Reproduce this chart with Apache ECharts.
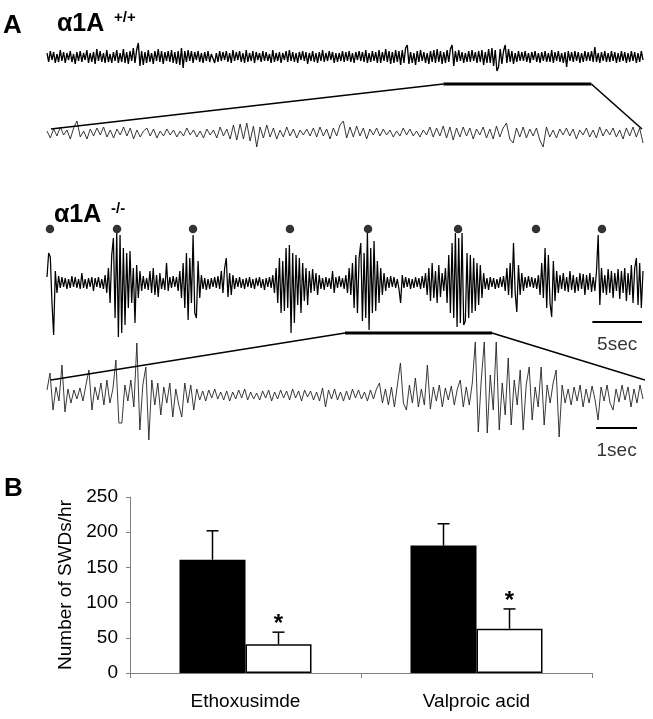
<!DOCTYPE html>
<html><head><meta charset="utf-8">
<script src="https://cdn.jsdelivr.net/npm/echarts@6/dist/echarts.min.js"></script>
<style>html,body{margin:0;padding:0;background:#fff}#c{width:653px;height:719px}</style>
</head><body><div id="c"></div>
<script>
// ---- Panel A: EEG traces (amplitude, arbitrary units) ----
const wtOverview = [
 4,-5,6,-3,5,-6,3,-5,7,-4,5,-6,4,-3,6,-5,3,-7,5,-4,
 6,-5,4,-3,7,-6,4,-5,5,-7,8,-4,6,-5,4,-6,7,-5,3,-6,
 5,-4,7,-6,4,-5,8,-6,5,-7,6,-4,9,-6,7,14,-9,6,-8,5,
 -6,7,-5,4,-7,6,-4,8,-5,6,-7,5,-4,6,-5,7,-6,5,-7,6,
 -8,9,-11,6,-5,7,-4,6,-6,5,-3,6,-5,4,-6,5,-4,6,-5,3,
 5,-6,4,-5,6,-4,5,-3,6,-5,4,-6,7,-4,5,-3,6,-5,4,-6,
 7,-5,4,-4,6,-6,5,-3,4,-5,6,-4,5,-4,3,-6,7,-5,4,-4,
 5,-6,4,-3,6,-5,7,-4,5,-5,4,-6,5,-3,6,-4,5,-7,4,-4,
 6,-5,4,-6,5,-4,7,-5,4,-4,6,-3,5,-6,4,-5,4,-4,6,-5,
 5,-4,6,-5,4,-6,5,-3,6,-4,5,-5,7,-6,4,-5,6,-4,5,-6,
 7,-6,5,-4,8,-5,6,-7,5,-6,7,-5,6,-8,7,-6,9,12,-7,5,
 -6,4,-8,6,-5,7,-4,5,-6,4,-7,6,-5,7,-6,8,-5,6,-7,5,
 -6,7,-5,8,12,-9,6,-5,7,-4,5,-6,4,-5,6,-5,7,-4,5,-6,
 6,-5,7,-8,5,-6,8,-6,9,-9,7,-14,-10,8,-7,6,12,-6,8,-5,
 6,-7,4,-5,6,-4,5,-4,6,-5,4,-6,5,-3,6,-5,4,-6,5,-4,
 6,-5,4,-5,7,-6,5,-4,6,-5,4,-6,5,-10,6,-4,5,-5,6,-4,
 5,-6,4,-5,6,-4,5,-4,6,-5,10,-5,4,-6,5,-4,6,-5,4,-5,
 6,-4,5,-6,4,-5,6,-4,5,-6,4,-5,6,-4,5,-6,4,-5,6,-3
];
const wtZoom = [
 2,-5,4,-3,6,-2,3,-6,5,12,-4,2,-6,4,-3,5,-2,6,-4,3,
 -5,4,-2,6,-3,5,-6,3,-4,2,5,-3,4,-5,2,-3,4,-2,3,-4,
 2,-3,5,-2,3,-4,2,-5,4,-2,3,-5,6,-3,4,-6,8,-7,9,-6,
 10,-8,7,-14,6,-5,8,-4,5,-6,3,-4,6,-3,4,-5,3,-2,4,-3,
 5,-4,6,-3,4,-6,5,-3,8,12,-5,6,-4,7,-3,5,-6,4,-2,5,
 -3,4,-2,3,-4,2,-3,5,-2,4,-3,2,-4,3,-2,6,-4,5,-3,7,
 -5,6,-7,5,-4,6,-3,5,-6,4,-2,6,-5,4,-6,7,-4,5,10,-6,
 -10,5,-4,6,-5,4,-3,5,-7,-14,6,-4,3,-5,4,-2,5,-3,4,-6,
 3,-2,5,-4,3,-5,6,-3,4,-2,5,-4,3,-6,5,-3,6,-4,5,-10
];
const koOverview = [
 6,30,26,-20,-52,12,-10,7,-5,6,-4,5,-6,4,-5,7,-4,6,-5,4,
 -6,10,-5,4,-6,5,-4,6,-8,5,-4,6,-5,4,-6,8,-10,15,-20,28,
 45,-35,50,-54,48,-50,35,-42,30,-25,32,-20,15,-40,18,-15,12,-8,7,-6,
 5,-7,12,-10,15,-12,8,-14,10,-6,5,-7,20,-8,6,-5,7,-4,6,-8,
 12,-15,20,-25,30,-37,25,-20,48,-30,-35,22,-15,8,-6,5,-7,4,-6,5,
 -4,6,-5,7,-6,12,-10,15,25,-14,10,-12,8,-6,5,-4,6,-5,4,-6,
 5,-4,6,-5,4,-6,5,-3,6,-5,4,-7,5,-4,6,-5,8,-10,15,-20,
 25,-30,22,-28,35,-25,38,-50,30,-40,28,-22,25,-30,20,-18,15,-22,12,-10,
 14,-8,10,-12,8,-6,5,-7,6,-4,5,-6,12,-10,6,-5,7,-4,5,-6,
 8,-10,15,-12,20,-25,28,-30,25,40,-38,30,-35,50,-47,35,-30,42,-28,22,
 -20,15,-12,10,-8,6,-5,7,-4,6,-5,4,-6,-20,8,-5,6,-4,5,-6,
 4,-5,6,-4,5,-6,7,-5,10,-12,15,-18,20,-15,12,-20,18,-14,10,-8,
 15,-20,28,-30,40,-35,50,-44,45,-40,50,-42,-38,30,-35,28,-30,25,-28,20,
 -22,18,-15,10,-6,5,-7,6,-4,5,-6,4,-5,6,-4,7,-8,15,-12,20,
 -15,40,-10,-29,18,-12,10,-8,6,-5,7,-4,6,-5,5,-6,8,-12,20,-15,
 35,-25,28,-20,-34,22,-18,12,-10,8,-6,10,-8,6,-9,12,-7,8,-10,6,
 -8,10,-6,9,-12,8,-7,10,-9,6,-8,12,48,-22,15,-10,8,-12,14,-10,
 12,-15,10,-8,14,-16,12,-10,15,-18,10,-12,18,-20,15,25,-22,20,-25,12
];
const koZoom = [
 5,22,-15,8,-6,30,-17,6,-8,5,-4,7,-6,10,25,-15,8,-5,12,-10,
 15,-8,6,35,-28,-28,10,-6,15,-12,52,-35,10,28,-45,15,-10,12,-20,8,
 -8,12,-22,6,-10,-22,12,-8,10,-15,6,-5,4,-6,5,-3,6,-4,3,-5,
 4,-6,3,-4,5,-3,6,-5,3,-4,2,-5,4,-3,5,-6,3,-4,5,-3,
 4,-5,6,-3,4,-6,5,-2,4,-5,3,-6,7,-12,5,-4,6,-5,3,-6,
 4,-5,6,-3,5,-4,3,-6,5,-4,6,12,-8,6,-10,8,-12,10,32,-8,
 -15,10,-8,17,-12,6,-10,30,-14,8,-6,10,-12,7,-5,9,-10,6,15,-12,
 8,-10,12,53,-37,15,53,-38,20,-15,53,-35,12,-20,37,-30,15,-10,25,-35,
 10,28,-25,8,-12,28,-30,10,-8,12,25,-42,10,-8,6,-10,8,-6,10,-12,
 6,-8,9,-5,-25,8,-6,10,-8,-15,6,-7,10,-5,8,-12,6,-8,10,-4
];
const overviewSeconds = 60;
const zoomSeconds = 15;
const wtZoomWindow = [39.9, 54.8];
const koZoomWindow = [30.0, 44.8];
const swdTimes = [0.3, 7.05, 14.7, 24.46, 32.32, 41.38, 49.23, 55.87];
const overviewScaleBar = [54.9, 59.9];   // 5 sec
const zoomScaleBar = [13.82, 14.85];     // 1 sec
const overviewScaleLabel = '5sec';
const zoomScaleLabel = '1sec';

// ---- Panel B: bar chart ----
const drugs = ['Ethoxusimde', 'Valproic acid'];
const beforeMean = [161, 181];
const beforeUpper = [202, 212];
const afterMean = [41, 63];
const afterUpper = [58, 91];
const afterMark = ['*', '*'];
const yTickMin = 0, yTickMax = 250, yTickStep = 50;
const yName = 'Number of SWDs/hr';

const FONT = '"Liberation Sans", Arial, Helvetica, sans-serif';
const BAR_W = 66;

function toPairs(vals, dur) {
  return vals.map((v, i) => [i * dur / (vals.length - 1), v]);
}
function traceSeries(vals, dur, idx, color, w) {
  return {type: 'line', xAxisIndex: idx, yAxisIndex: idx, data: toPairs(vals, dur),
    showSymbol: false, symbol: 'none', clip: false, silent: true,
    lineStyle: {color: color, width: w}};
}
function segSeries(idx, pts, w) {
  return {type: 'line', xAxisIndex: idx, yAxisIndex: idx, data: pts, showSymbol: false,
    symbol: 'none', clip: false, silent: true, lineStyle: {color: '#000', width: w}};
}
function scaleBar(idx, range, yv, label, dist) {
  return [
    segSeries(idx, [[range[0], yv], [range[1], yv]], 2),
    {type: 'scatter', xAxisIndex: idx, yAxisIndex: idx, symbolSize: 0.1,
     data: [[(range[0] + range[1]) / 2, yv]], silent: true,
     label: {show: true, position: 'bottom', distance: dist, formatter: label,
       fontSize: 19, fontFamily: FONT, color: '#000'}}
  ];
}
function connector(idx, win, dur) {
  return [
    segSeries(idx, [[0.4, 0], [win[0], 1]], 1.6),
    segSeries(idx, [[win[0], 1], [win[1], 1]], 3),
    segSeries(idx, [[win[1], 1], [dur, 0]], 1.6)
  ];
}
function errRender(side, marks) {
  return function (params, api) {
    const base = api.coord([api.value(0), api.value(1)]);
    const top = api.coord([api.value(0), api.value(2)]);
    const x = base[0] + side * BAR_W / 2;
    const children = [
      {type: 'line', shape: {x1: x, y1: base[1], x2: x, y2: top[1]}, style: {stroke: '#000', lineWidth: 1.5}},
      {type: 'line', shape: {x1: x - 6, y1: top[1], x2: x + 6, y2: top[1]}, style: {stroke: '#000', lineWidth: 1.5}}
    ];
    if (marks) {
      children.push({type: 'text', style: {text: marks[params.dataIndex], x: x, y: top[1] + 4,
        align: 'center', verticalAlign: 'bottom', textAlign: 'center', textVerticalAlign: 'bottom',
        font: 'bold 24px ' + FONT, fill: '#000'}});
    }
    return {type: 'group', children: children};
  };
}

const hiddenX = (g, max) => ({type: 'value', gridIndex: g, min: 0, max: max, show: false});
const hiddenY = (g, lim, lo) => ({type: 'value', gridIndex: g, min: lo, max: lim, show: false});

const option = {
  animation: false,
  backgroundColor: '#fff',
  grid: [
    {left: 47, top: 27, width: 596, height: 60},
    {left: 47, top: 103, width: 596, height: 60},
    {left: 47, top: 223, width: 596, height: 120},
    {left: 47, top: 335, width: 596, height: 120},
    {left: 47, top: 84, width: 596, height: 45},
    {left: 47, top: 333, width: 596, height: 47},
    {left: 130, top: 497, width: 462, height: 176}
  ],
  xAxis: [
    hiddenX(0, overviewSeconds), hiddenX(1, zoomSeconds), hiddenX(2, overviewSeconds),
    hiddenX(3, zoomSeconds), hiddenX(4, overviewSeconds), hiddenX(5, overviewSeconds),
    {type: 'category', gridIndex: 6, data: drugs,
     axisLine: {lineStyle: {color: '#808080', width: 1}},
     axisTick: {show: true, length: 5, lineStyle: {color: '#808080'}},
     axisLabel: {color: '#000', fontSize: 19, fontFamily: FONT, margin: 19}}
  ],
  yAxis: [
    hiddenY(0, 30, -30), hiddenY(1, 30, -30), hiddenY(2, 60, -60), hiddenY(3, 60, -60),
    hiddenY(4, 1, 0), hiddenY(5, 1, 0),
    {type: 'value', gridIndex: 6, min: yTickMin, max: yTickMax, interval: yTickStep,
     splitLine: {show: false},
     axisLine: {show: true, lineStyle: {color: '#808080', width: 1}},
     axisTick: {show: true, length: 4, lineStyle: {color: '#808080'}},
     axisLabel: {color: '#000', fontSize: 19, fontFamily: FONT, margin: 12},
     name: yName, nameLocation: 'middle', nameGap: 55,
     nameTextStyle: {color: '#000', fontSize: 19, fontFamily: FONT}}
  ],
  series: [
    traceSeries(wtOverview, overviewSeconds, 0, '#000', 1.35),
    traceSeries(wtZoom, zoomSeconds, 1, '#222', 0.9),
    traceSeries(koOverview, overviewSeconds, 2, '#000', 1.25),
    traceSeries(koZoom, zoomSeconds, 3, '#222', 0.9),
    {type: 'scatter', xAxisIndex: 2, yAxisIndex: 2, symbol: 'circle', symbolSize: 8.5,
     itemStyle: {color: '#000'}, silent: true, data: swdTimes.map(t => [t, 54])},
    ...scaleBar(2, overviewScaleBar, -39, overviewScaleLabel, 13),
    ...scaleBar(3, zoomScaleBar, -33, zoomScaleLabel, 13),
    ...connector(4, wtZoomWindow, overviewSeconds - 0.1),
    ...connector(5, koZoomWindow, overviewSeconds + 0.2),
    {type: 'bar', xAxisIndex: 6, yAxisIndex: 6, data: beforeMean, barWidth: BAR_W, barGap: '0%',
     itemStyle: {color: '#000'}, silent: true},
    {type: 'bar', xAxisIndex: 6, yAxisIndex: 6, data: afterMean, barWidth: BAR_W, barGap: '0%',
     itemStyle: {color: '#fff', borderColor: '#000', borderWidth: 1.5}, silent: true},
    {type: 'custom', xAxisIndex: 6, yAxisIndex: 6, z: 5, silent: true,
     data: drugs.map((d, i) => [i, beforeMean[i], beforeUpper[i]]), renderItem: errRender(-1, null)},
    {type: 'custom', xAxisIndex: 6, yAxisIndex: 6, z: 5, silent: true,
     data: drugs.map((d, i) => [i, afterMean[i], afterUpper[i]]), renderItem: errRender(1, afterMark)}
  ],
  graphic: [
    {type: 'text', style: {text: 'A', x: 3, y: 26, font: 'bold 26px ' + FONT, fill: '#000', textVerticalAlign: 'middle', verticalAlign: 'middle'}},
    {type: 'text', style: {text: 'α1A', x: 57, y: 24, font: 'bold 25px ' + FONT, fill: '#000', textVerticalAlign: 'middle', verticalAlign: 'middle'}},
    {type: 'text', style: {text: '+/+', x: 114, y: 18, font: 'bold 15px ' + FONT, fill: '#000', textVerticalAlign: 'middle', verticalAlign: 'middle'}},
    {type: 'text', style: {text: 'α1A', x: 54, y: 215, font: 'bold 25px ' + FONT, fill: '#000', textVerticalAlign: 'middle', verticalAlign: 'middle'}},
    {type: 'text', style: {text: '-/-', x: 111, y: 209, font: 'bold 15px ' + FONT, fill: '#000', textVerticalAlign: 'middle', verticalAlign: 'middle'}},
    {type: 'text', style: {text: 'B', x: 4, y: 489, font: 'bold 26px ' + FONT, fill: '#000', textVerticalAlign: 'middle', verticalAlign: 'middle'}}
  ]
};
echarts.init(document.getElementById('c'), null, {renderer: 'canvas'}).setOption(option);
</script></body></html>
